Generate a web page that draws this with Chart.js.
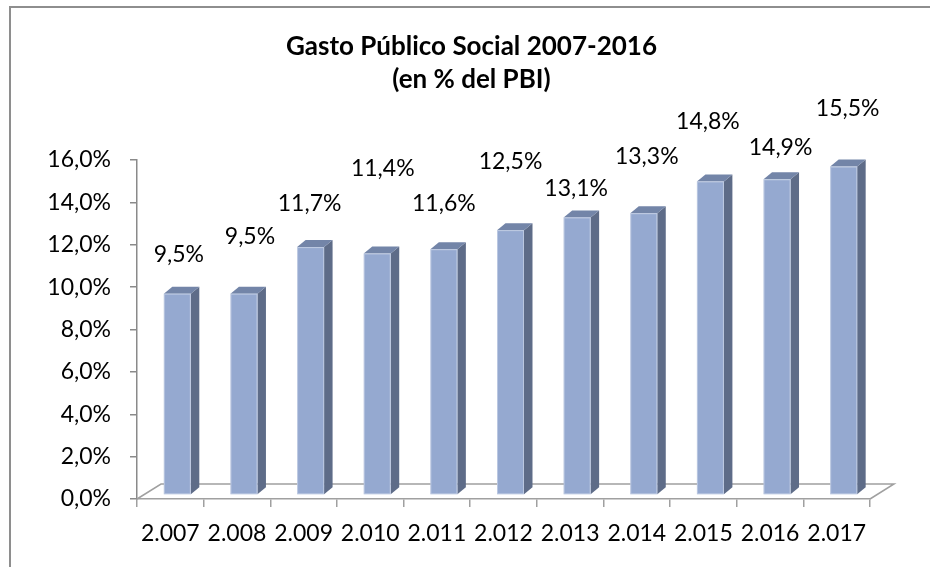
<!DOCTYPE html>
<html>
<head>
<meta charset="utf-8">
<script src="https://cdn.jsdelivr.net/npm/chart.js@4/dist/chart.umd.min.js"></script>
<style>
  html, body { margin: 0; padding: 0; background: #fff; overflow: hidden; }
  #wrap { position: relative; width: 930px; height: 567px; }
  #frame { position: absolute; left: 9px; top: 6px; width: 1000px; height: 1000px;
           border: 2px solid #8e8e8e; pointer-events: none; }
  canvas { position: absolute; left: 0; top: 0; }
</style>
</head>
<body>
<div id="wrap">
  <canvas id="c" width="930" height="567"></canvas>
  <div id="frame"></div>
</div>
<script>
// ---- data ----
const categories = ["2.007","2.008","2.009","2.010","2.011","2.012","2.013","2.014","2.015","2.016","2.017"];
const gastoSocial = [9.5, 9.5, 11.7, 11.4, 11.6, 12.5, 13.1, 13.3, 14.8, 14.9, 15.5];
const yTickValues = [0, 2, 4, 6, 8, 10, 12, 14, 16];
const titleLines = ["Gasto Público Social 2007-2016", "(en % del PBI)"];

// ---- label placement (pixel offsets from bar front-top centre, as in the original) ----
const labelShift = [[1.5,39],[6,57],[-1,44],[5.5,85],[0,46],[0,69],[-1,29],[3,57],[-2.5,60],[3.5,32],[4,58]];

const FONT = "Lato, 'Open Sans', sans-serif";
const fmt = v => v.toFixed(1).replace('.', ',') + '%';

// 3D geometry (pixels)
const FLOOR_DX = 24, FLOOR_DY = -15;   // floor depth
const BAR_OFF_X = 7, BAR_OFF_Y = -4;   // bar front plane position within floor depth
const BAR_DX = 8.5, BAR_DY = -7;       // bar depth

const front = '#95a9d0', side = '#5e6c88', topC = '#7385a8';

const titlePlugin = {
  id: 'titleText',
  afterDraw(chart) {
    const {ctx} = chart;
    ctx.save();
    ctx.fillStyle = '#000';
    ctx.font = 'bold 26px ' + FONT;
    ctx.textAlign = 'center';
    ctx.textBaseline = 'middle';
    ctx.fillText(titleLines[0], 471.5, 47);
    ctx.fillText(titleLines[1], 471.5, 80);
    ctx.restore();
  }
};

const bars3d = {
  id: 'bars3d',
  beforeDatasetsDraw(chart) {
    const {ctx, chartArea: a} = chart;
    ctx.save();
    ctx.strokeStyle = '#a0a0a0';
    ctx.lineWidth = 1.5;
    ctx.beginPath();
    ctx.moveTo(a.left, a.bottom);
    ctx.lineTo(a.left + FLOOR_DX, a.bottom + FLOOR_DY);
    ctx.lineTo(a.right + FLOOR_DX, a.bottom + FLOOR_DY);
    ctx.lineTo(a.right, a.bottom);
    ctx.stroke();
    ctx.restore();
  },
  afterDatasetsDraw(chart) {
    const {ctx} = chart;
    const meta = chart.getDatasetMeta(0);
    ctx.save();
    meta.data.forEach((bar, i) => {
      const w = bar.width;
      const x0 = bar.x - w / 2 + BAR_OFF_X, x1 = bar.x + w / 2 + BAR_OFF_X;
      const yT = bar.y + BAR_OFF_Y, yB = bar.base + BAR_OFF_Y;
      // side face
      ctx.fillStyle = side;
      ctx.beginPath();
      ctx.moveTo(x1, yT); ctx.lineTo(x1 + BAR_DX, yT + BAR_DY);
      ctx.lineTo(x1 + BAR_DX, yB + BAR_DY); ctx.lineTo(x1, yB); ctx.closePath(); ctx.fill();
      // top face
      ctx.fillStyle = topC;
      ctx.beginPath();
      ctx.moveTo(x0, yT); ctx.lineTo(x0 + BAR_DX, yT + BAR_DY);
      ctx.lineTo(x1 + BAR_DX, yT + BAR_DY); ctx.lineTo(x1, yT); ctx.closePath(); ctx.fill();
      // front face
      ctx.fillStyle = front;
      ctx.fillRect(x0, yT, x1 - x0, yB - yT);
      ctx.strokeStyle = 'rgba(255,255,255,0.35)';
      ctx.lineWidth = 1;
      ctx.strokeRect(x0 + 0.5, yT + 0.5, x1 - x0 - 1, yB - yT - 1);
      // label
      const s = labelShift[i];
      ctx.fillStyle = '#000';
      ctx.font = '23px ' + FONT;
      ctx.textAlign = 'center';
      ctx.textBaseline = 'middle';
      ctx.fillText(fmt(gastoSocial[i]), (x0 + x1) / 2 + s[0], yT - s[1]);
    });
    ctx.restore();
  }
};

new Chart(document.getElementById('c'), {
  type: 'bar',
  data: {
    labels: categories,
    datasets: [{
      data: gastoSocial,
      backgroundColor: 'rgba(0,0,0,0)',
      borderWidth: 0,
      barPercentage: 0.405,
      categoryPercentage: 1
    }]
  },
  plugins: [bars3d, titlePlugin],
  options: {
    responsive: false,
    animation: false,
    layout: { padding: { left: 0, right: 60, top: 160, bottom: 0 } },
    plugins: {
      legend: { display: false },
      tooltip: { enabled: false },
      title: { display: false }
    },
    scales: {
      x: {
        afterFit(s) { s.height = 68; },
        border: { display: true, color: '#a0a0a0', width: 1.5 },
        grid: { display: true, drawOnChartArea: false, drawTicks: true, tickLength: 8, color: '#a0a0a0', lineWidth: 1.5 },
        ticks: { color: '#000', font: { family: FONT, size: 23 }, padding: 13, maxRotation: 0 }
      },
      y: {
        min: 0, max: 16,
        afterFit(s) { s.width = 137; },
        afterBuildTicks(s) { s.ticks = yTickValues.map(v => ({ value: v })); },
        border: { display: true, color: '#8a8a8a', width: 1.5 },
        grid: { display: true, drawOnChartArea: false, drawTicks: true, tickLength: 7, color: '#8a8a8a', lineWidth: 1.5 },
        ticks: { color: '#000', font: { family: FONT, size: 23 }, padding: 19, callback: v => fmt(v) }
      }
    }
  }
});
</script>
</body>
</html>
